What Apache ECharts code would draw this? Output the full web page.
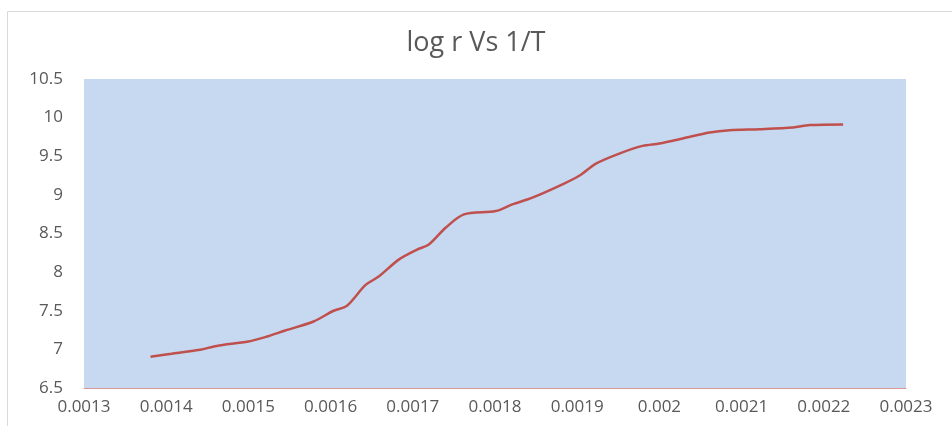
<!DOCTYPE html>
<html>
<head>
<meta charset="utf-8">
<script src="https://cdn.jsdelivr.net/npm/echarts@6/dist/echarts.min.js"></script>
<style>html,body{margin:0;padding:0;background:#fff;}#c{width:952px;height:426px;}</style>
</head>
<body>
<div id="c"></div>
<script>
const titleText = 'log r Vs 1/T';
const invT = [0.0013809,0.0014065,0.0014411,0.0014613,0.0015000,0.0015204,0.0015448,0.0015793,0.0016037,0.0016199,0.0016423,0.0016585,0.0016829,0.0017052,0.0017195,0.0017399,0.0017622,0.0018009,0.0018211,0.0018455,0.0018821,0.0019024,0.0019228,0.0019512,0.0019796,0.0020000,0.0020284,0.0020610,0.0020854,0.0021220,0.0021626,0.0021829,0.0022235];
const logR = [6.906,6.942,6.994,7.045,7.101,7.158,7.244,7.361,7.500,7.565,7.831,7.942,8.162,8.292,8.357,8.574,8.747,8.790,8.877,8.964,9.136,9.247,9.405,9.535,9.634,9.665,9.730,9.808,9.838,9.851,9.873,9.903,9.912];
const xMin = 0.0013, xMax = 0.0023, xStep = 0.0001;
const yMin = 6.5, yMax = 10.5, yStep = 0.5;

const chart = echarts.init(document.getElementById('c'), null, {renderer:'canvas'});
const FONT = '"Open Sans", Lato, sans-serif';
chart.setOption({
  animation:false,
  backgroundColor:'#ffffff',
  graphic:[{type:'rect', shape:{x:7.5,y:11.5,width:1000,height:1000}, style:{fill:'none', stroke:'#d9d9d9', lineWidth:1}, silent:true}],
  title:{text:titleText, left:'center', top:25, textStyle:{fontFamily:FONT, fontWeight:'normal', fontSize:27, color:'#595959'}},
  grid:{left:84, right:46, top:79, bottom:38, show:true, backgroundColor:'#c6d9f0', borderWidth:0},
  xAxis:{type:'value', min:xMin, max:xMax, interval:xStep,
    axisLine:{show:true, lineStyle:{color:'#d99694', width:1}},
    axisTick:{show:false}, splitLine:{show:false},
    axisLabel:{fontFamily:FONT, fontSize:17, color:'#595959', margin:11, formatter:v=>String(+v.toFixed(4))}},
  yAxis:{type:'value', min:yMin, max:yMax, interval:yStep,
    axisLine:{show:false}, axisTick:{show:false}, splitLine:{show:false},
    axisLabel:{fontFamily:FONT, fontSize:17, color:'#595959', margin:21, formatter:v=>String(+v.toFixed(1))}},
  series:[{type:'line', data:invT.map((x,i)=>[x,logR[i]]), smooth:0.3, showSymbol:false,
    lineStyle:{color:'#c0504d', width:2.5}}]
});
</script>
</body>
</html>
